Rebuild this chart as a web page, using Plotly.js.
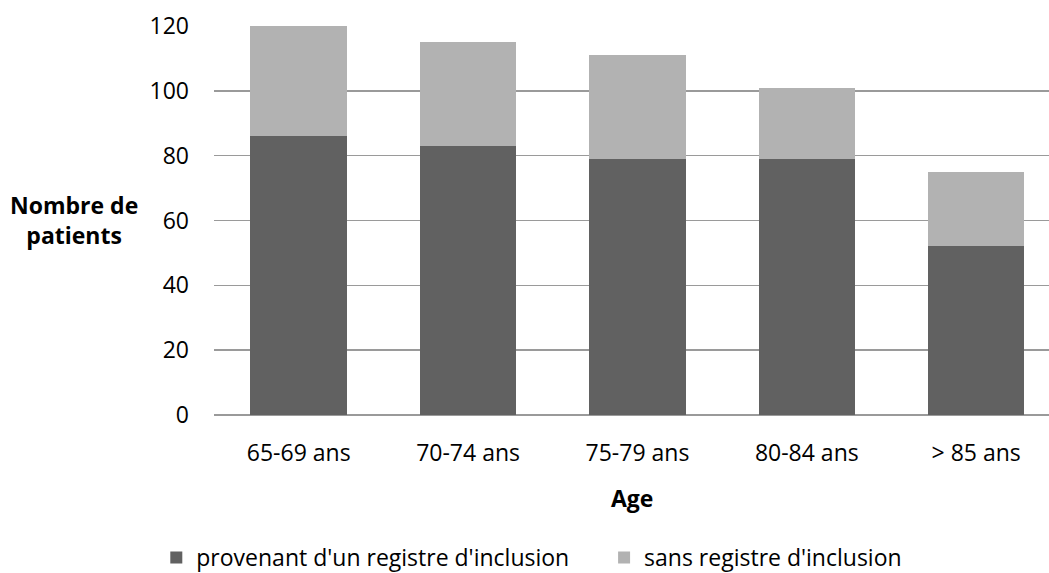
<!DOCTYPE html>
<html><head><meta charset="utf-8">
<script src="https://cdn.plot.ly/plotly-3.0.1.min.js"></script>
<style>body{margin:0;background:#fff}#c{width:1049px;height:573px}</style>
</head><body><div id="c"></div>
<script>
const categories = ["65-69 ans","70-74 ans","75-79 ans","80-84 ans","> 85 ans"];
const avecRegistre = [86, 83, 79, 79, 52];
const sansRegistre = [34, 32, 32, 22, 23];
const seriesNames = ["provenant d'un registre d'inclusion","sans registre d'inclusion"];
const yTicks = [0,20,40,60,80,100,120];

const font = {family:"Open Sans, Lato, sans-serif", size:23, color:"#000"};
const pad = "\u00a0".repeat(5);
const data = [
  {type:"bar", x:categories, y:avecRegistre, name:seriesNames[0] + pad, marker:{color:"#616161"}},
  {type:"bar", x:categories, y:sansRegistre, name:seriesNames[1], marker:{color:"#b2b2b2"}}
];
const layout = {
  width:1049, height:573, barmode:"stack", bargap:0.43,
  margin:{l:214, r:0, t:26, b:158, autoexpand:false},
  paper_bgcolor:"#fff", plot_bgcolor:"#fff",
  font:font, showlegend:true,
  legend:{orientation:"h", xref:"container", yref:"container", x:0.149, xanchor:"left", y:0.027, yanchor:"middle",
    font:font, traceorder:"normal", itemwidth:30},
  xaxis:{range:[-0.5, 4.43], tickfont:font, showgrid:false, zeroline:false, automargin:false,
    showline:false, ticks:"", ticklen:0, ticklabelstandoff:22},
  yaxis:{range:[0,120], tickvals:yTicks, tickfont:font, showgrid:true, gridcolor:"#9a9a9a", gridwidth:1.5, automargin:false,
    zeroline:true, zerolinecolor:"#9a9a9a", zerolinewidth:1.5, ticks:"", ticklabelstandoff:24},
  annotations:[
    {text:"<b>Nombre de<br>patients</b>", xref:"paper", yref:"paper", x:-0.1677, y:0.501,
     xanchor:"center", yanchor:"middle", showarrow:false, font:font, align:"center"},
    {text:"<b>Age</b>", xref:"paper", yref:"paper", x:0.5, y:-0.213,
     xanchor:"center", yanchor:"middle", showarrow:false, font:font}
  ]
};
Plotly.newPlot("c", data, layout, {displayModeBar:false, staticPlot:true});
</script></body></html>
